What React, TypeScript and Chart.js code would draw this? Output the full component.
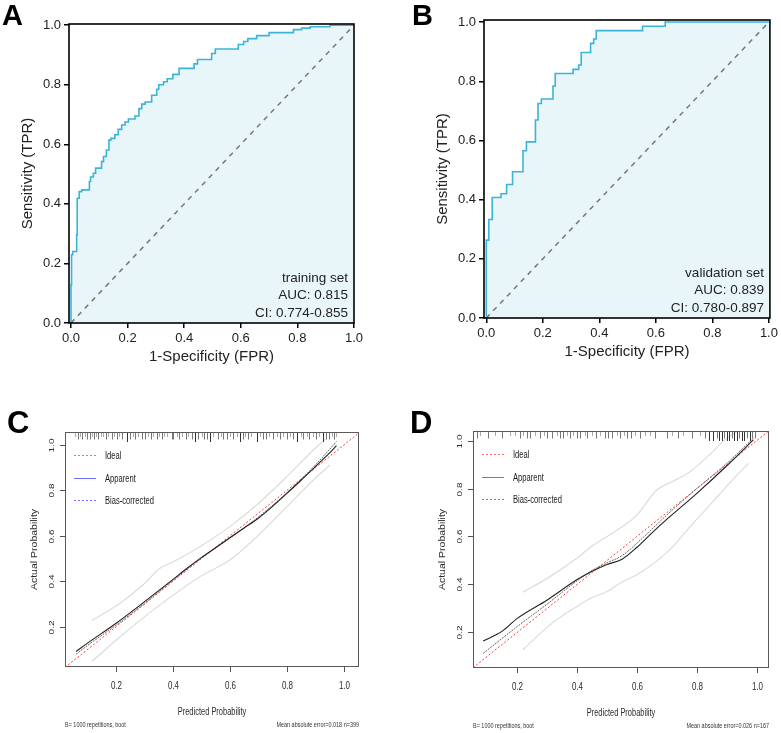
import React, { useEffect, useRef } from "react";
import { Chart, registerables } from "chart.js";

Chart.register(...registerables);

const SANS = "'Liberation Sans', Arial, Helvetica, sans-serif";

// ROC curve, training set: (FPR, TPR) at successive cut-offs
const trainFpr = [0, 0.002, 0.006, 0.02, 0.022, 0.029, 0.038, 0.065, 0.069, 0.079, 0.087, 0.108, 0.115, 0.125, 0.134, 0.141, 0.155, 0.167, 0.179, 0.191, 0.203, 0.226, 0.24, 0.25, 0.262, 0.285, 0.303, 0.31, 0.327, 0.34, 0.36, 0.382, 0.435, 0.447, 0.497, 0.51, 0.591, 0.61, 0.625, 0.656, 0.7, 0.786, 0.815, 0.845, 0.915, 0.99, 1.0];
const trainTpr = [0, 0.128, 0.229, 0.24, 0.296, 0.419, 0.441, 0.447, 0.475, 0.49, 0.503, 0.52, 0.542, 0.559, 0.581, 0.614, 0.62, 0.632, 0.65, 0.665, 0.675, 0.685, 0.695, 0.72, 0.735, 0.742, 0.765, 0.785, 0.8, 0.81, 0.82, 0.835, 0.855, 0.87, 0.885, 0.905, 0.92, 0.935, 0.945, 0.955, 0.965, 0.975, 0.985, 0.99, 0.995, 1.0, 1.0];

// ROC curve, validation set
const validFpr = [0, 0, 0.009, 0.021, 0.052, 0.072, 0.093, 0.13, 0.142, 0.174, 0.183, 0.195, 0.236, 0.244, 0.307, 0.327, 0.336, 0.369, 0.38, 0.389, 0.553, 0.633, 0.697, 1.0];
const validTpr = [0, 0.043, 0.263, 0.333, 0.407, 0.42, 0.451, 0.494, 0.565, 0.595, 0.669, 0.725, 0.74, 0.784, 0.826, 0.84, 0.855, 0.897, 0.928, 0.943, 0.971, 0.986, 1.0, 1.0];

const rocTicks = [0, 0.2, 0.4, 0.6, 0.8, 1.0];
const calTicks = [0.2, 0.4, 0.6, 0.8, 1.0];

// Calibration, training set
const trainApparentX = [0.061, 0.1, 0.2, 0.3, 0.4, 0.45, 0.5, 0.55, 0.6, 0.65, 0.7, 0.75, 0.8, 0.85, 0.9, 0.95, 0.974];
const trainApparentY = [0.092, 0.128, 0.215, 0.31, 0.408, 0.458, 0.505, 0.548, 0.592, 0.635, 0.678, 0.73, 0.787, 0.845, 0.905, 0.965, 0.997];
const trainBiasX = [0.061, 0.1, 0.2, 0.3, 0.4, 0.5, 0.6, 0.7, 0.8, 0.9, 0.974];
const trainBiasY = [0.08, 0.118, 0.207, 0.303, 0.405, 0.503, 0.59, 0.683, 0.79, 0.912, 1.015];
const trainUpperX = [0.116, 0.215, 0.3, 0.355, 0.402, 0.495, 0.6, 0.694, 0.8, 0.893, 0.94];
const trainUpperY = [0.228, 0.304, 0.39, 0.458, 0.487, 0.553, 0.641, 0.736, 0.861, 0.978, 1.03];
const trainLowerX = [0.116, 0.215, 0.355, 0.495, 0.6, 0.682, 0.8, 0.893, 0.951];
const trainLowerY = [0.048, 0.157, 0.297, 0.421, 0.494, 0.582, 0.729, 0.846, 0.912];
const trainRug = [0.057, 0.066, 0.075, 0.083, 0.092, 0.098, 0.110, 0.116, 0.122, 0.131, 0.139, 0.147, 0.157, 0.166, 0.174, 0.186, 0.194, 0.203, 0.213, 0.221, 0.238, 0.250, 0.259, 0.268, 0.279, 0.291, 0.303, 0.314, 0.323, 0.332, 0.344, 0.353, 0.361, 0.369, 0.379, 0.396, 0.402, 0.414, 0.423, 0.431, 0.446, 0.455, 0.466, 0.478, 0.490, 0.501, 0.510, 0.519, 0.530, 0.542, 0.560, 0.568, 0.577, 0.589, 0.600, 0.612, 0.624, 0.635, 0.645, 0.653, 0.665, 0.676, 0.694, 0.706, 0.717, 0.727, 0.738, 0.752, 0.764, 0.776, 0.787, 0.799, 0.811, 0.822, 0.836, 0.848, 0.857, 0.869, 0.878, 0.892, 0.902, 0.913, 0.927, 0.939, 0.948, 0.957, 0.965, 0.974];
const trainRugCount = [1, 2, 1, 2, 1, 2, 2, 1, 2, 1, 2, 1, 1, 2, 1, 2, 1, 2, 1, 2, 3, 2, 1, 2, 1, 2, 2, 1, 2, 1, 2, 1, 2, 1, 1, 2, 2, 1, 2, 1, 2, 1, 2, 3, 2, 1, 2, 2, 3, 1, 2, 1, 2, 2, 1, 2, 1, 3, 2, 1, 2, 1, 3, 1, 2, 2, 1, 2, 1, 2, 1, 2, 1, 2, 3, 1, 2, 1, 2, 1, 2, 1, 3, 2, 2, 1, 2, 1];

// Calibration, validation set
const validApparentX = [0.086, 0.15, 0.2, 0.3, 0.4, 0.45, 0.5, 0.55, 0.6, 0.65, 0.7, 0.8, 0.9, 0.989];
const validApparentY = [0.164, 0.205, 0.258, 0.335, 0.42, 0.455, 0.483, 0.505, 0.555, 0.615, 0.672, 0.78, 0.895, 1.003];
const validBiasX = [0.086, 0.2, 0.3, 0.4, 0.45, 0.5, 0.55, 0.6, 0.7, 0.8, 0.9, 0.989];
const validBiasY = [0.112, 0.224, 0.318, 0.415, 0.458, 0.49, 0.52, 0.572, 0.69, 0.8, 0.905, 1.01];
const validUpperX = [0.218, 0.3, 0.4, 0.45, 0.55, 0.6, 0.666, 0.72, 0.777, 0.85, 0.9, 0.944];
const validUpperY = [0.367, 0.425, 0.51, 0.56, 0.64, 0.69, 0.794, 0.83, 0.87, 0.95, 1.01, 1.045];
const validLowerX = [0.218, 0.309, 0.398, 0.45, 0.5, 0.55, 0.6, 0.71, 0.777, 0.85, 0.9, 0.972];
const validLowerY = [0.126, 0.231, 0.307, 0.345, 0.37, 0.41, 0.44, 0.545, 0.64, 0.74, 0.81, 0.905];
const validRug = [0.064, 0.075, 0.103, 0.125, 0.148, 0.176, 0.192, 0.209, 0.22, 0.231, 0.242, 0.259, 0.276, 0.289, 0.3, 0.315, 0.334, 0.343, 0.354, 0.365, 0.376, 0.387, 0.398, 0.41, 0.426, 0.434, 0.449, 0.463, 0.476, 0.493, 0.504, 0.515, 0.532, 0.543, 0.557, 0.568, 0.579, 0.593, 0.61, 0.627, 0.643, 0.66, 0.699, 0.716, 0.738, 0.755, 0.783, 0.811, 0.827, 0.842, 0.855, 0.866, 0.875, 0.883, 0.891, 0.9, 0.909, 0.916, 0.924, 0.933, 0.942, 0.95, 0.958, 0.967, 0.976, 0.983, 0.994];
const validRugCount = [2, 1, 2, 1, 2, 1, 1, 2, 1, 2, 2, 1, 2, 1, 2, 2, 1, 2, 2, 1, 2, 1, 2, 2, 1, 2, 1, 2, 1, 2, 2, 2, 1, 2, 1, 2, 2, 1, 2, 1, 1, 2, 2, 1, 2, 1, 2, 1, 2, 3, 3, 2, 3, 3, 2, 3, 3, 2, 3, 3, 2, 3, 3, 2, 3, 2, 2];

const legendLabels = ["Ideal", "Apparent", "Bias-corrected"];

type XY = { x: number; y: number };
const pairs = (xs: number[], ys: number[]): XY[] => xs.map((x, i) => ({ x, y: ys[i] }));

type TextOpts = {
  font: string;
  color?: string;
  align?: CanvasTextAlign;
  baseline?: CanvasTextBaseline;
  rotate?: number;
  sx?: number;
  sy?: number;
};

function drawText(ctx: CanvasRenderingContext2D, text: string, x: number, y: number, o: TextOpts) {
  ctx.save();
  ctx.translate(x, y);
  if (o.rotate) ctx.rotate(o.rotate);
  ctx.scale(o.sx ?? 1, o.sy ?? 1);
  ctx.font = o.font;
  ctx.fillStyle = o.color ?? "#222";
  ctx.textAlign = o.align ?? "center";
  ctx.textBaseline = o.baseline ?? "middle";
  ctx.fillText(text, 0, 0);
  ctx.restore();
}

function line(ctx: CanvasRenderingContext2D, x1: number, y1: number, x2: number, y2: number) {
  ctx.beginPath();
  ctx.moveTo(x1, y1);
  ctx.lineTo(x2, y2);
  ctx.stroke();
}

type Box = { left: number; top: number; right: number; bottom: number };

type RocSpec = {
  fpr: number[];
  tpr: number[];
  letter: string;
  letterX: number;
  setName: string;
  auc: string;
  ci: string;
  pad: Box;
  xMin: number;
  xMax: number;
  yMax: number;
};

function rocConfig(s: RocSpec): any {
  const decor = {
    id: "rocDecor",
    afterDraw(chart: any) {
      const { ctx, chartArea: a } = chart;
      ctx.save();
      ctx.strokeStyle = "#000";
      ctx.lineWidth = 1.6;
      ctx.strokeRect(a.left, a.top, a.right - a.left, a.bottom - a.top);
      const cy = (a.top + a.bottom) / 2;
      const cx = (a.left + a.right) / 2;
      drawText(ctx, "Sensitivity (TPR)", a.left - 41, cy, { font: `15px ${SANS}`, rotate: -Math.PI / 2 });
      drawText(ctx, "1-Specificity (FPR)", cx, a.bottom + 34, { font: `15px ${SANS}` });
      const f = `13.5px ${SANS}`;
      drawText(ctx, s.setName, a.right - 6, a.bottom - 45, { font: f, align: "right" });
      drawText(ctx, s.auc, a.right - 6, a.bottom - 28, { font: f, align: "right" });
      drawText(ctx, s.ci, a.right - 6, a.bottom - 10, { font: f, align: "right" });
      drawText(ctx, s.letter, s.letterX, 25, { font: `bold 29px ${SANS}`, color: "#000", align: "left", baseline: "alphabetic" });
      ctx.restore();
    },
  };
  const tickFont = { family: SANS, size: 13 };
  const grid = { drawOnChartArea: false, drawTicks: true, tickLength: 5, color: "#000", lineWidth: 1.5 };
  const setTicks = (sc: any) => {
    sc.ticks = rocTicks.map((v) => ({ value: v }));
  };
  return {
    type: "scatter",
    data: {
      datasets: [
        {
          data: pairs(s.fpr, s.tpr),
          showLine: true,
          stepped: "after",
          borderColor: "#3cb4d8",
          borderWidth: 1.6,
          backgroundColor: "#e9f6f9",
          fill: "origin",
          pointRadius: 0,
        },
        {
          data: [{ x: 0, y: 0 }, { x: 1, y: 1 }],
          showLine: true,
          borderColor: "#777",
          borderWidth: 1.5,
          borderDash: [5, 5],
          pointRadius: 0,
          fill: false,
        },
      ],
    },
    options: {
      animation: false,
      responsive: false,
      events: [],
      layout: { padding: { left: 0, bottom: 0, top: s.pad.top, right: s.pad.right } },
      plugins: { legend: { display: false }, tooltip: { enabled: false }, filler: { drawTime: "beforeDatasetsDraw" } },
      scales: {
        x: {
          type: "linear",
          min: s.xMin,
          max: s.xMax,
          afterFit: (sc: any) => {
            sc.height = s.pad.bottom;
          },
          afterBuildTicks: setTicks,
          ticks: { font: tickFont, color: "#222", padding: 3, maxRotation: 0, autoSkip: false, callback: (v: any) => Number(v).toFixed(1) },
          grid,
          border: { display: false },
        },
        y: {
          type: "linear",
          min: 0,
          max: s.yMax,
          afterFit: (sc: any) => {
            sc.width = s.pad.left;
          },
          afterBuildTicks: setTicks,
          ticks: { font: tickFont, color: "#222", padding: 3, autoSkip: false, callback: (v: any) => Number(v).toFixed(1) },
          grid,
          border: { display: false },
        },
      },
    },
    plugins: [decor],
  };
}

type CalSpec = {
  letter: string;
  letterX: number;
  pad: Box;
  xMin: number;
  xMax: number;
  yMin: number;
  yMax: number;
  apparent: XY[];
  bias: XY[];
  upper: XY[];
  lower: XY[];
  rug: number[];
  rugCount: number[];
  errorNote: string;
};

function calConfig(s: CalSpec): any {
  const decor = {
    id: "calDecor",
    afterDraw(chart: any) {
      const { ctx, chartArea: a, scales } = chart;
      const xs = scales.x;
      const ys = scales.y;
      ctx.save();
      // frame
      ctx.strokeStyle = "#5a5a5a";
      ctx.lineWidth = 1;
      ctx.strokeRect(a.left + 0.5, a.top + 0.5, a.right - a.left - 1, a.bottom - a.top - 1);
      // rug of predicted probabilities along the top edge
      s.rug.forEach((v, i) => {
        const c = s.rugCount[i];
        const px = Math.round(xs.getPixelForValue(v)) + 0.5;
        ctx.strokeStyle = c >= 3 ? "#333" : c === 2 ? "#777" : "#aaa";
        line(ctx, px, a.top + 1, px, a.top + 1 + 1.5 + 2.5 * c);
      });
      // axes
      ctx.strokeStyle = "#555";
      const tf = `10.5px ${SANS}`;
      calTicks.forEach((v) => {
        const px = Math.round(xs.getPixelForValue(v)) + 0.5;
        line(ctx, px, a.bottom, px, a.bottom + 5);
        drawText(ctx, v.toFixed(1), px, a.bottom + 19, { font: tf, color: "#2a2a2a", sx: 0.76 });
        const py = Math.round(ys.getPixelForValue(v)) + 0.5;
        line(ctx, a.left - 5, py, a.left, py);
        drawText(ctx, v.toFixed(1), a.left - 13, py, { font: `10px ${SANS}`, color: "#2a2a2a", rotate: -Math.PI / 2, sy: 0.8 });
      });
      const cx = (a.left + a.right) / 2;
      const cy = (a.top + a.bottom) / 2;
      drawText(ctx, "Predicted Probability", cx, a.bottom + 45, { font: `11px ${SANS}`, color: "#2a2a2a", sx: 0.68 });
      drawText(ctx, "Actual Probability", a.left - 30, cy, { font: `10.5px ${SANS}`, color: "#2a2a2a", rotate: -Math.PI / 2, sy: 0.85 });
      // legend
      const legendStyle = [
        { color: "#ff6b6b", dash: [2, 2] },
        { color: "#6f6fff", dash: [] as number[] },
        { color: "#6f6fff", dash: [2, 2] },
      ];
      const rows = [23, 46, 68];
      legendLabels.forEach((lab, i) => {
        const y = Math.round(a.top + rows[i]) + 0.5;
        ctx.strokeStyle = legendStyle[i].color;
        ctx.setLineDash(legendStyle[i].dash);
        line(ctx, a.left + 9, y, a.left + 31, y);
        ctx.setLineDash([]);
        drawText(ctx, lab, a.left + 40, y, { font: `11.5px ${SANS}`, color: "#1a1a1a", align: "left", sx: 0.66 });
      });
      // footnotes
      const nf = `7px ${SANS}`;
      drawText(ctx, "B= 1000 repetitions, boot", a.left, a.bottom + 58, { font: nf, color: "#333", align: "left", sx: 0.78 });
      drawText(ctx, s.errorNote, a.right, a.bottom + 58, { font: nf, color: "#333", align: "right", sx: 0.78 });
      drawText(ctx, s.letter, s.letterX, 53, { font: `bold 31px ${SANS}`, color: "#000", align: "left", baseline: "alphabetic" });
      ctx.restore();
    },
  };
  const curve = (data: XY[], color: string, width: number, dash: number[] = []) => ({
    data,
    showLine: true,
    borderColor: color,
    borderWidth: width,
    borderDash: dash,
    pointRadius: 0,
    fill: false,
    cubicInterpolationMode: "monotone",
  });
  return {
    type: "scatter",
    data: {
      datasets: [
        curve(s.apparent, "#222", 1.1),
        curve(s.bias, "#666", 1, [2, 1]),
        curve([{ x: 0, y: 0 }, { x: 1.1, y: 1.1 }], "#ff3b3b", 1, [2, 2]),
        curve(s.upper, "#dcdcdc", 1.2),
        curve(s.lower, "#dcdcdc", 1.2),
      ],
    },
    options: {
      animation: false,
      responsive: false,
      events: [],
      layout: { padding: s.pad },
      plugins: { legend: { display: false }, tooltip: { enabled: false } },
      scales: {
        x: { type: "linear", display: false, min: s.xMin, max: s.xMax },
        y: { type: "linear", display: false, min: s.yMin, max: s.yMax },
      },
    },
    plugins: [decor],
  };
}

function ChartCanvas(props: { left: number; top: number; width: number; height: number; build: () => any }) {
  const ref = useRef<HTMLCanvasElement>(null);
  useEffect(() => {
    const chart = new Chart(ref.current as HTMLCanvasElement, props.build());
    return () => chart.destroy();
  }, []);
  return (
    <canvas
      ref={ref}
      width={props.width}
      height={props.height}
      style={{ position: "absolute", left: props.left, top: props.top, width: props.width, height: props.height }}
    />
  );
}

export default function App() {
  return (
    <div style={{ position: "absolute", left: 0, top: 0, width: 781, height: 733, background: "#fff", overflow: "hidden" }}>
      <ChartCanvas
        left={0}
        top={0}
        width={390}
        height={370}
        build={() =>
          rocConfig({
            fpr: trainFpr,
            tpr: trainTpr,
            letter: "A",
            letterX: 2,
            setName: "training set",
            auc: "AUC: 0.815",
            ci: "CI: 0.774-0.855",
            pad: { left: 69, top: 24, right: 36, bottom: 47 },
            xMin: -0.007,
            xMax: 1.0,
            yMax: 1.004,
          })
        }
      />
      <ChartCanvas
        left={390}
        top={0}
        width={391}
        height={370}
        build={() =>
          rocConfig({
            fpr: validFpr,
            tpr: validTpr,
            letter: "B",
            letterX: 22,
            setName: "validation set",
            auc: "AUC: 0.839",
            ci: "CI: 0.780-0.897",
            pad: { left: 94, top: 20, right: 10, bottom: 52 },
            xMin: -0.008,
            xMax: 1.0035,
            yMax: 1.007,
          })
        }
      />
      <ChartCanvas
        left={0}
        top={380}
        width={390}
        height={353}
        build={() =>
          calConfig({
            letter: "C",
            letterX: 7,
            pad: { left: 65, top: 52, right: 31, bottom: 66 },
            xMin: 0.022,
            xMax: 1.053,
            yMin: 0.024,
            yMax: 1.057,
            apparent: pairs(trainApparentX, trainApparentY),
            bias: pairs(trainBiasX, trainBiasY),
            upper: pairs(trainUpperX, trainUpperY),
            lower: pairs(trainLowerX, trainLowerY),
            rug: trainRug,
            rugCount: trainRugCount,
            errorNote: "Mean absolute error=0.018 n=399",
          })
        }
      />
      <ChartCanvas
        left={390}
        top={380}
        width={391}
        height={353}
        build={() =>
          calConfig({
            letter: "D",
            letterX: 20,
            pad: { left: 83, top: 51, right: 12, bottom: 65 },
            xMin: 0.052,
            xMax: 1.041,
            yMin: 0.051,
            yMax: 1.04,
            apparent: pairs(validApparentX, validApparentY),
            bias: pairs(validBiasX, validBiasY),
            upper: pairs(validUpperX, validUpperY),
            lower: pairs(validLowerX, validLowerY),
            rug: validRug,
            rugCount: validRugCount,
            errorNote: "Mean absolute error=0.026 n=167",
          })
        }
      />
    </div>
  );
}
